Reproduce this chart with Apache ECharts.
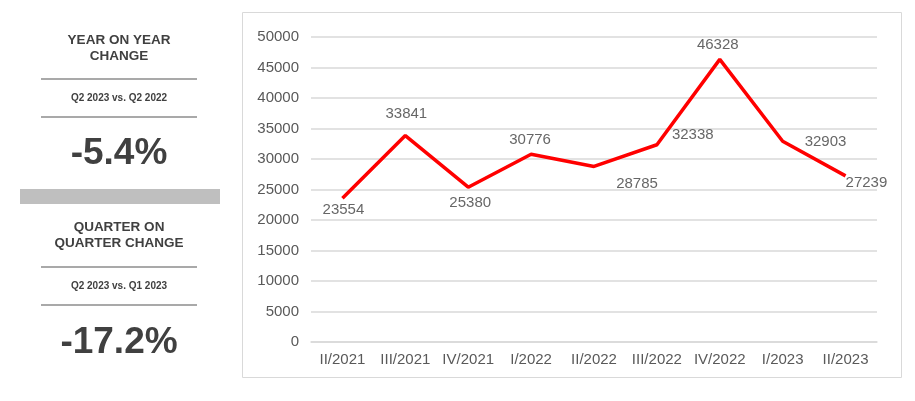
<!DOCTYPE html>
<html><head><meta charset="utf-8">
<script src="https://cdn.jsdelivr.net/npm/echarts@6/dist/echarts.min.js"></script>
<style>html,body{margin:0;padding:0;background:#fff}#c{width:915px;height:401px}</style>
</head><body><div id="c"></div>
<script>
var categories = ['II/2021','III/2021','IV/2021','I/2022','II/2022','III/2022','IV/2022','I/2023','II/2023'];
var values = [23554, 33841, 25380, 30776, 28785, 32338, 46328, 32903, 27239];
var yTicks = [0, 5000, 10000, 15000, 20000, 25000, 30000, 35000, 40000, 45000, 50000];
var yoyTitle = ['YEAR ON YEAR', 'CHANGE'];
var yoySub = 'Q2 2023 vs. Q2 2022';
var yoyValue = '-5.4%';
var qoqTitle = ['QUARTER ON', 'QUARTER CHANGE'];
var qoqSub = 'Q2 2023 vs. Q1 2023';
var qoqValue = '-17.2%';

var font = 'Liberation Sans, Arial, sans-serif';
var dark = '#404040';
var labelPos = [
  {position:'bottom', offset:[1,-2]},
  {position:'top', offset:[1,-8]},
  {position:'bottom', offset:[2,2]},
  {position:'top', offset:[-1,-1]},
  {position:'bottom', offset:[43,4]},
  {position:'right', offset:[9,-10]},
  {position:'top', offset:[-2,-1]},
  {position:'right', offset:[16,1]},
  {position:'right', offset:[-6,7]}
];
var labelData = values.map(function(v,i){
  var l = labelPos[i];
  return {value:v, label:{show:true, position:l.position, offset:l.offset}};
});
function ln(y){
  return {type:'line', shape:{x1:41,y1:y,x2:197,y2:y}, style:{stroke:'#8c8c8c', lineWidth:1.3}};
}
function t(x,y,text,size){
  return {type:'text', x:x, y:y, style:{text:text, fill:dark, font:'bold '+size+'px '+font, align:'center', verticalAlign:'middle'}};
}
var chart = echarts.init(document.getElementById('c'));
chart.setOption({
  animation:false,
  grid:{left:311, right:38, top:37, bottom:59},
  xAxis:{type:'category', data:categories, boundaryGap:true,
    axisLine:{lineStyle:{color:'#d9d9d9', width:1.5}}, axisTick:{show:false},
    axisLabel:{color:'#595959', fontSize:15, fontFamily:font, margin:10, interval:0}},
  yAxis:{type:'value', min:yTicks[0], max:yTicks[yTicks.length-1], interval:5000,
    axisLine:{show:false}, axisTick:{show:false},
    splitLine:{lineStyle:{color:'#d9d9d9', width:1.5}},
    axisLabel:{color:'#595959', fontSize:15, fontFamily:font, margin:12, formatter:function(v){return String(v);}}},
  series:[
    {type:'line', data:values, symbol:'none',
      lineStyle:{color:'#ff0000', width:3.5}, z:2},
    {type:'scatter', data:labelData, symbolSize:2,
      itemStyle:{color:'rgba(255,0,0,0)'}, z:3,
      label:{show:true, color:dark, fontSize:15, fontFamily:font,
        formatter:function(p){return String(p.value);}}}
  ],
  graphic:[
    {type:'rect', shape:{x:242.5,y:12.5,width:659,height:365}, style:{fill:'none', stroke:'#d9d9d9', lineWidth:1}, z:-1},
    {type:'rect', shape:{x:20,y:189,width:200,height:15}, style:{fill:'#bfbfbf'}},
    t(119,40,yoyTitle[0],13.5),
    t(119,56,yoyTitle[1],13.5),
    ln(79),
    t(119,98,yoySub,10),
    ln(117),
    t(119,154,yoyValue,37),
    t(119,227,qoqTitle[0],13.5),
    t(119,243,qoqTitle[1],13.5),
    ln(267),
    t(119,286,qoqSub,10),
    ln(305),
    t(119,343,qoqValue,37)
  ]
});
</script></body></html>
